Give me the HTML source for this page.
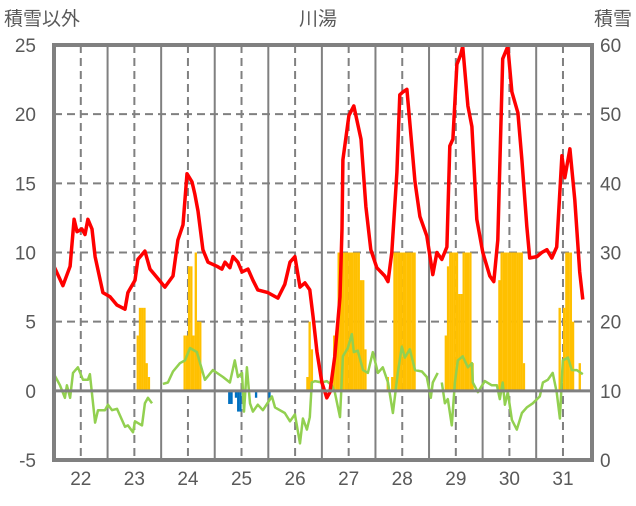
<!DOCTYPE html>
<html><head><meta charset="utf-8"><style>
body{margin:0;background:#fff;}
svg text{font-family:"Liberation Sans","Noto Sans CJK JP",sans-serif;fill:#595959;}
</style></head><body>
<svg id="chart" width="636" height="501" viewBox="0 0 636 501" xmlns="http://www.w3.org/2000/svg">
<text x="318" y="25" font-size="19" text-anchor="middle">川湯</text>
<text x="4" y="25" font-size="19">積雪以外</text>
<text x="632" y="25" font-size="19" text-anchor="end">積雪</text>
<g id="grid"></g><g id="bars"></g><g id="lines"></g><g id="axes"></g>
</svg>
<script>
const dayLabels=["22","23","24","25","26","27","28","29","30","31"];
const leftTicks=[-5,0,5,10,15,20,25];
const rightTicks=[0,10,20,30,40,50,60];
const redTimes=[0,4,7.2,9,10.3,12.5,13.9,15.2,17,18.4,21.9,25.1,28.2,31.8,33.1,36.3,37.6,40.7,43,46.1,49.7,53.3,55.5,57.8,59.6,61.8,63.1,64.5,66.7,69,73,75.2,76.6,78.8,80.2,82.4,84.2,86.9,89.1,91.3,95.8,100.3,103.4,105.7,107.9,110.2,112.4,114.6,116,117.8,120,122.2,123.6,125.8,128.1,129,129.4,132.1,134.3,137.5,139.7,141.9,144.6,148.2,149.6,151.3,153.6,154.9,156.3,158.1,159.4,161.7,163.9,167,169.7,171.5,173.7,176,177.3,178.7,180.5,182.2,183.1,185.4,187.2,189.4,192.1,195.2,197,198.8,201,203.3,205.1,207.8,209.6,211.8,213.1,216.3,218.5,220.8,223,225.2,227.5,228.8,231.1,233.3,235.5,236.9];
const redValues=[9.0,7.6,9.0,12.4,11.5,11.7,11.3,12.4,11.7,9.7,7.1,6.8,6.2,5.9,7.1,8.0,9.5,10.1,8.8,8.2,7.5,8.3,10.9,12.0,15.7,15.1,14.2,13.0,10.2,9.3,9.0,8.8,9.3,8.9,9.7,9.3,8.6,8.8,8.0,7.3,7.1,6.7,7.7,9.3,9.7,7.5,7.8,7.3,5.4,2.8,0.6,-0.5,-0.1,2.5,6.8,11.7,16.7,19.9,20.6,18.2,13.3,10.2,8.9,8.3,7.9,10.0,15.8,21.4,21.6,21.8,19.4,15.1,12.6,11.2,8.4,10.0,9.5,10.4,17.7,18.2,23.6,24.3,24.9,20.6,19.1,12.4,10.0,8.3,7.9,10.9,24.0,24.9,21.6,20.1,16.7,11.9,9.6,9.7,10.0,10.2,9.6,10.4,17.0,15.4,17.5,13.8,8.6,6.6];
const greenTimes=[0,2.7,4.9,5.8,7.2,8.5,10.7,13,15.2,16.1,18.4,19.7,22.8,24.2,26,28.2,31.8,33.1,35.4,36.3,39.4,40.7,42.1,43.9,null,48.8,51,53.3,56.4,58.7,60.9,64,67.6,71.2,75.7,78.8,81,82.4,84.2,85.1,86.4,87.8,89.1,91.3,93.6,97.6,99,103.4,105.7,107.9,110.2,111.5,113.3,114.6,115.5,116.9,120,122.2,124.5,125.8,128.1,129.4,131.6,133.4,134.3,136.1,138.4,140.6,142.8,145.1,147.3,149.6,151.8,154,155.8,157.2,159.4,161.7,164.8,167,168.8,169.7,171.9,null,173.7,175.1,176.4,178.2,179.6,180.9,183.1,185.4,187.2,187.6,189.9,193,196.1,198.4,199.7,201,202,203.3,205.1,207.3,209.6,211.8,214.5,217.6,219,221.2,223.4,225.2,226.6,227.9,230.2,232,234.2,236.9];
const greenValues=[1.2,0.4,-0.5,0.4,-0.5,1.3,1.7,0.8,0.8,1.2,-2.3,-1.4,-1.4,-1.0,-1.4,-1.3,-2.6,-2.5,-3.0,-2.2,-2.5,-0.9,-0.5,-0.9,null,0.5,0.6,1.4,2.0,2.2,3.1,2.8,0.8,1.5,1.0,0.6,2.2,1.0,1.3,-1.5,1.7,-0.9,-1.5,-1.0,-1.4,-0.4,-1.2,-1.6,-2.2,-1.7,-3.8,-2.0,-2.8,-1.9,0.6,0.7,0.6,0.7,0.4,-0.1,-1.9,2.5,3.1,4.1,2.8,2.9,1.5,1.3,2.8,1.3,1.7,0.6,-1.6,1.3,3.2,2.4,3.0,1.5,1.4,1.0,-0.5,0.6,1.3,null,0.6,-0.9,-0.6,-2.5,0.6,2.2,2.5,1.7,2.0,0.6,-0.1,0.7,0.4,0.4,-0.6,0.6,-1.0,-0.1,-2.1,-2.8,-1.6,-1.2,-0.9,-0.4,0.6,0.8,1.3,-0.1,-2.0,2.2,2.4,1.5,1.5,1.2];
const barHours=[37,38,39,40,41,42,58,59,60,61,62,63,64,65,78,79,81,82,83,90,96,113,114,115,125,126,127,128,129,130,131,132,133,134,135,136,137,138,139,149,151,152,153,154,155,156,157,158,159,160,161,175,176,177,178,179,180,181,182,183,184,185,186,187,199,200,201,202,203,204,205,206,207,208,209,210,226,228,229,230,231,232,235];
const barValues=[18,22,22,22,14,12,18,18,28,28,18,30,20,20,8.1,8.1,9,7,7,9,9,12,20,16,18,18,30,30,30,30,30,30,30,30,30,30,26,26,16,12,12,30,30,30,30,30,30,30,30,30,30,18,28,30,30,30,30,24,24,30,30,30,30,14,26,30,30,30,30,30,30,30,30,30,30,14,22,22,30,30,30,20,14];

const X0=54,X1=592,YT=45,YB=460,hourW=(X1-X0)/(10*24+1);
const dayW=24*hourW;
const xH=h=>X0+h*hourW;
const yL=v=>YB-(v+5)/30*(YB-YT);
const yR=v=>YB-v/60*(YB-YT);
const NS="http://www.w3.org/2000/svg";
function mk(tag,parent,attrs){const e=document.createElementNS(NS,tag);for(const k in attrs)e.setAttribute(k,attrs[k]);parent.appendChild(e);return e;}
const grid=document.getElementById('grid'),bars=document.getElementById('bars'),lines=document.getElementById('lines'),axes=document.getElementById('axes');
// horizontal grid
leftTicks.forEach(v=>{if(v===-5||v===25||v===0)return;
 const l=mk('line',grid,{x1:X0,x2:X1,y1:yL(v),y2:yL(v),stroke:'#808080','stroke-width':2,'stroke-dasharray':'8,5'});
 
 });
// vertical grid
for(let d=0;d<=10;d++){
 const xs=xH(12)+d*dayW-dayW/2;
 if(d>0&&d<10){const l=mk('line',grid,{x1:xs,x2:xs,y1:YT,y2:YB,stroke:'#808080','stroke-width':2});
 
 }
 if(d<10){const xc=xH(12)+d*dayW;const l2=mk('line',grid,{x1:xc,x2:xc,y1:YT,y2:YB,stroke:'#808080','stroke-width':2,'stroke-dasharray':'8,5'});
 
 }
}
// bars
barHours.forEach((h,i)=>{const v=barValues[i];const y0=yR(10),y1=yR(v);
 const r=mk('rect',bars,{x:xH(h),width:hourW+0.1,y:Math.min(y0,y1),height:Math.abs(y1-y0),fill:v>=10?'#FFC000':'#0070C0'});
 
 });
// zero line
const z=mk('line',axes,{x1:X0,x2:X1,y1:yL(0),y2:yL(0),stroke:'#808080','stroke-width':3});


function pathFrom(ts,vs){let d='',pen=false;ts.forEach((t,i)=>{if(t===null||vs[i]===null){pen=false;return;}d+=(pen?'L':'M')+xH(t).toFixed(1)+','+yL(vs[i]).toFixed(1);pen=true;});return d;}
const g=mk('path',lines,{d:pathFrom(greenTimes,greenValues),fill:'none',stroke:'#92D050','stroke-width':2.5,'stroke-linejoin':'round'});


const r=mk('path',lines,{d:pathFrom(redTimes,redValues),fill:'none',stroke:'#FF0000','stroke-width':3.5,'stroke-linejoin':'round'});


// frame
const f=mk('rect',axes,{x:X0,y:YT,width:X1-X0,height:YB-YT,fill:'none',stroke:'#808080','stroke-width':4});


leftTicks.forEach(v=>{const t=mk('text',axes,{x:36,y:yL(v)+7,'font-size':19,'text-anchor':'end'});t.textContent=v;
 
 });
rightTicks.forEach(v=>{const t=mk('text',axes,{x:600,y:yR(v)+7,'font-size':19});t.textContent=v;
 
 });
dayLabels.forEach((s,i)=>{const t=mk('text',axes,{x:xH(12)+i*dayW,y:485,'font-size':19,'text-anchor':'middle'});t.textContent=s;
 
 });
</script>
</body></html>
